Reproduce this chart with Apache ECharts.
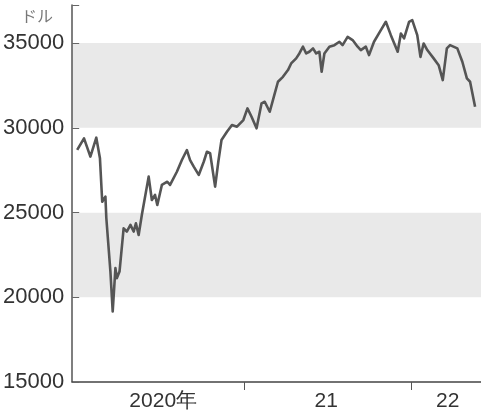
<!DOCTYPE html>
<html><head><meta charset="utf-8">
<script src="https://cdn.jsdelivr.net/npm/echarts@6/dist/echarts.min.js"></script>
<style>html,body{margin:0;padding:0;background:#fff}#c{width:481px;height:418px}</style>
</head><body><div id="c"></div>
<script>
const dates = ["2019-12-30","2020-01-14","2020-01-28","2020-02-10","2020-02-18","2020-02-23","2020-03-01","2020-03-03","2020-03-12","2020-03-17","2020-03-23","2020-03-26","2020-04-01","2020-04-10","2020-04-17","2020-04-25","2020-05-02","2020-05-07","2020-05-13","2020-05-20","2020-06-04","2020-06-11","2020-06-18","2020-06-23","2020-07-03","2020-07-15","2020-07-21","2020-08-05","2020-08-16","2020-08-27","2020-09-03","2020-09-11","2020-09-22","2020-10-03","2020-10-10","2020-10-17","2020-10-28","2020-11-04","2020-11-11","2020-11-23","2020-12-04","2020-12-15","2020-12-29","2021-01-07","2021-01-16","2021-01-27","2021-02-07","2021-02-14","2021-02-25","2021-03-08","2021-03-15","2021-03-26","2021-04-06","2021-04-13","2021-04-24","2021-05-01","2021-05-09","2021-05-16","2021-05-23","2021-05-31","2021-06-07","2021-06-14","2021-06-19","2021-06-25","2021-07-06","2021-07-17","2021-07-28","2021-08-04","2021-08-15","2021-08-26","2021-09-06","2021-09-13","2021-09-24","2021-10-01","2021-10-12","2021-10-27","2021-11-07","2021-11-18","2021-12-03","2021-12-10","2021-12-17","2021-12-28","2022-01-04","2022-01-15","2022-01-22","2022-01-29","2022-02-06","2022-02-20","2022-03-03","2022-03-12","2022-03-21","2022-03-28","2022-04-13","2022-04-24","2022-05-04","2022-05-11","2022-05-22"];
const values = [28700,29380,28300,29420,28200,25640,25940,24680,21520,19160,21720,21130,21520,24070,23880,24270,23880,24370,23680,24860,27120,25740,26040,25450,26630,26820,26630,27410,28100,28690,28100,27710,27220,28000,28590,28500,26530,28000,29280,29770,30170,30070,30460,31150,30655,29970,31445,31540,30950,32030,32720,33010,33410,33800,34100,34390,34790,34390,34490,34690,34390,34490,33310,34390,34790,34880,35080,34880,35370,35180,34790,34590,34790,34290,35080,35770,36260,35470,34490,35570,35280,36260,36360,35470,34190,34980,34590,34100,33700,32820,34690,34880,34690,33900,32920,32720,31250];
const yTicks = [15000,20000,25000,30000,35000];
const yearTicks = ["2021-01-01","2022-01-01"];
const yearLabels = [["2020-07-06","2020年"],["2021-06-29","21"],["2022-03-23","22"]];
const unitLabel = "ドル";
const xRange = ["2019-12-19","2022-06-04"];
const yMax = 37250;

const t = s => Date.parse(s + "T00:00:00Z");
const labelMap = {};
yearLabels.forEach(([d,l]) => labelMap[t(d)] = l);
const FONT = "'Liberation Sans Narrow','Liberation Sans',Arial,sans-serif";

const chart = echarts.init(document.getElementById('c'), null, {renderer:'canvas'});
chart.setOption({
  animation:false,
  backgroundColor:'#fff',
  grid:{left:70,right:0,top:5,bottom:36,containLabel:false},
  xAxis:{
    type:'value', min:t(xRange[0]), max:t(xRange[1]),
    axisLine:{show:true,lineStyle:{color:'#444',width:1.5}},
    axisTick:{show:true,customValues:yearTicks.map(t),length:8,inside:false,lineStyle:{color:'#555',width:1}},
    axisLabel:{show:true,customValues:yearLabels.map(d=>t(d[0])),formatter:v=>labelMap[v]||'',
      color:'#333',fontSize:21,fontFamily:FONT,margin:9,showMinLabel:true,showMaxLabel:true},
    splitLine:{show:false}
  },
  yAxis:{
    type:'value', min:yTicks[0], max:yMax, interval:5000,
    axisLine:{show:true,lineStyle:{color:'#555',width:1.5}},
    axisTick:{show:true,inside:true,length:7,lineStyle:{color:'#666',width:1}},
    axisLabel:{color:'#333',fontSize:22,fontFamily:FONT,margin:8,
      formatter:v=>yTicks.includes(v)?String(v):''},
    splitLine:{show:false},
    splitArea:{show:true,areaStyle:{color:['#ffffff','#e9e9e9']}}
  },
  graphic:[{type:'text',left:21,top:8,style:{text:unitLabel,fill:'#777',fontSize:16,fontFamily:"'Noto Sans CJK JP',sans-serif"}}],
  series:[{
    type:'line', showSymbol:false, symbol:'none',
    data:dates.map((d,i)=>[t(d),values[i]]),
    lineStyle:{color:'#555',width:2.6,join:'round'}
  }]
});
</script></body></html>
